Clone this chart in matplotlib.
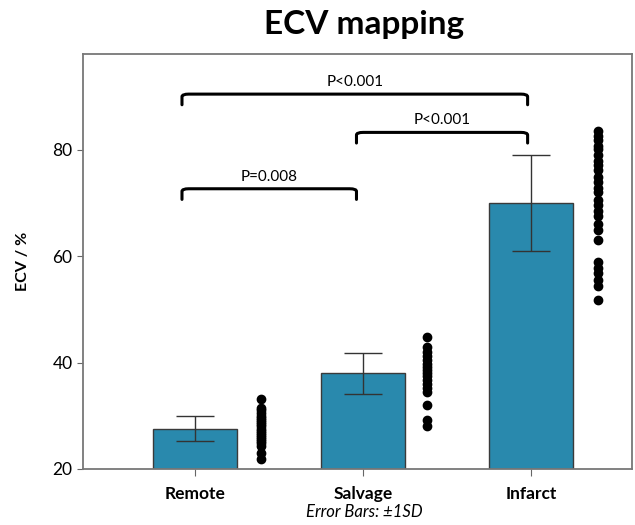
import numpy as np
import matplotlib.pyplot as plt
from matplotlib.path import Path
from matplotlib.patches import PathPatch

groups = ['Remote', 'Salvage', 'Infarct']
means = [27.6, 38.0, 70.0]
sds = [2.4, 3.9, 9.0]

remote_pts = [33.2, 31.5, 31.0, 30.5, 30.0, 29.6, 29.2, 28.8, 28.4, 28.0, 27.6,
              27.2, 26.8, 26.4, 26.0, 25.6, 25.2, 24.8, 24.4, 23.0, 21.8]
salvage_pts = [44.8, 43.0, 42.0, 41.2, 40.5, 39.8, 39.2, 38.6, 38.0, 37.4,
               36.8, 36.0, 35.2, 34.5, 32.0, 29.2, 28.0]
infarct_pts = [83.6, 82.6, 81.8, 80.8, 80.2, 79.0, 78.0, 77.2, 76.2, 75.0,
               74.0, 72.8, 72.0, 70.6, 69.6, 68.6, 67.6, 66.0, 65.0, 63.0,
               59.0, 57.8, 56.8, 55.6, 54.4, 51.8]

# (x start, x end, bar y, leg drop, label)
brackets = [(-0.08, 1.98, 90.5, 2.0, 'P<0.001'),
            (0.96, 1.98, 83.3, 2.0, 'P<0.001'),
            (-0.08, 0.96, 72.7, 2.0, 'P=0.008')]

plt.rcParams['font.family'] = ['Lato', 'DejaVu Sans']

fig = plt.figure(figsize=(6.35, 5.25), dpi=100)
ax = fig.add_axes([0.1307, 0.1067, 0.864, 0.79])

x = np.arange(len(groups))
ax.bar(x, np.array(means) - 20, bottom=20, width=0.5, color='#2989AD',
       edgecolor='#3a3a3a', linewidth=1.0, zorder=2)
ax.errorbar(x, means, yerr=sds, fmt='none', ecolor='#333333', elinewidth=1.0,
            capsize=14, capthick=1.0, zorder=3)

for i, pts in enumerate([remote_pts, salvage_pts, infarct_pts]):
    off = [0.39, 0.38, 0.40][i]
    ax.plot(np.full(len(pts), i + off), pts, 'o', color='black',
            markersize=6.0, zorder=4)

for x0, x1, yb, d, lab in brackets:
    verts = [(x0, yb - d), (x0, yb - 0.5), (x0, yb), (x0 + 0.04, yb),
             (x1 - 0.04, yb), (x1, yb), (x1, yb - 0.5), (x1, yb - d)]
    codes = [Path.MOVETO, Path.LINETO, Path.CURVE3, Path.CURVE3,
             Path.LINETO, Path.CURVE3, Path.CURVE3, Path.LINETO]
    ax.add_patch(PathPatch(Path(verts, codes), fill=False, lw=2.2,
                           edgecolor='black', capstyle='round', zorder=5))
    ax.text((x0 + x1) / 2, yb + 2.3, lab, ha='center', va='center', fontsize=11)

ax.set_xlim(-0.67, 2.6)
ax.set_ylim(20, 98)
ax.set_yticks([20, 40, 60, 80])
ax.set_xticks(x)
ax.set_xticklabels(groups, fontweight='bold', fontsize=12.5)
ax.tick_params(axis='y', labelsize=12.5, length=4, color='#666666')
ax.tick_params(axis='x', length=5, color='#666666', pad=7)
for s in ax.spines.values():
    s.set_color('#777777')
    s.set_linewidth(1.3)

ax.set_ylabel('ECV / %', fontweight='bold', fontsize=11.5, labelpad=16)
fig.text(0.574, 0.953, 'ECV mapping', ha='center', va='center',
         fontsize=24, fontweight='bold')
fig.text(0.573, 0.025, 'Error Bars: \u00b11SD', ha='center', va='center',
         fontsize=12, style='italic')

fig.savefig('out.png', dpi=100)
